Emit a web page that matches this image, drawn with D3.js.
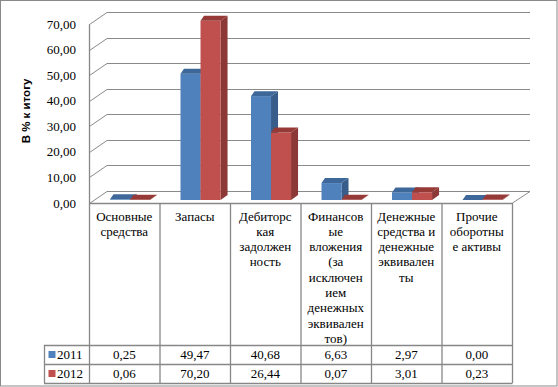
<!DOCTYPE html>
<html><head><meta charset="utf-8">
<script src="https://cdn.jsdelivr.net/npm/d3@7"></script>
<style>body{margin:0;background:#fff}svg{display:block}</style></head>
<body>
<script>
const categories = ["Основные средства","Запасы","Дебиторская задолженность","Финансовые вложения (за исключением денежных эквивалентов)","Денежные средства и денежные эквиваленты","Прочие оборотные активы"];
const categoryLines = [["Основные","средства"],["Запасы"],["Дебиторс","кая","задолжен","ность"],["Финансов","ые","вложения","(за","исключен","ием","денежных","эквивален","тов)"],["Денежные","средства и","денежные","эквивален","ты"],["Прочие","оборотны","е активы"]];
const series = ["2011","2012"];
const values2011 = [0.25,49.47,40.68,6.63,2.97,0.00];
const values2012 = [0.06,70.20,26.44,0.07,3.01,0.23];
const yTicks = [0,10,20,30,40,50,60,70];
const yTitle = "В % к итогу";

const W = 558, H = 387;
const colors = {
  "2011": {front:"#4F81BD", side:"#385D8A", top:"#3D6899"},
  "2012": {front:"#C0504D", side:"#8C3836", top:"#963A37"}
};
const gridColor = "#8A8A8A";
const SERIF = "Liberation Serif";
const fmt = v => d3.format(".2f")(v).replace(".", ",");

const svg = d3.select("body").append("svg").attr("width", W).attr("height", H);
const serifText = sel => sel.attr("font-family", SERIF).attr("font-size", 13).attr("fill", "#000");

const x = d3.scaleBand().domain(categories).range([89, 512]);
const yBack = d3.scaleLinear().domain([0, 70]).range([191, 12.3]);
const wallDx = 18, wallDy = 12;
const barDy = 9;
const depthDx = 7, depthDy = 5;
const floorFrontY = 203;
const backRight = 530;

const g = svg.append("g");

yTicks.forEach(t => {
  const yb = Math.round(yBack(t)) + 0.5;
  g.append("line").attr("x1", 89 + wallDx).attr("x2", backRight).attr("y1", yb).attr("y2", yb)
    .attr("stroke", gridColor).attr("stroke-width", 1);
  g.append("line").attr("x1", 89.5).attr("y1", yb + wallDy).attr("x2", 89 + wallDx).attr("y2", yb)
    .attr("stroke", gridColor).attr("stroke-width", 1);
  g.append("text").call(serifText).attr("x", 76).attr("y", yBack(t) + wallDy).attr("dy", "0.35em")
    .attr("text-anchor", "end").text(fmt(t));
});
g.append("line").attr("x1", 512.5).attr("y1", floorFrontY).attr("x2", backRight).attr("y2", Math.round(yBack(0)) + 0.5)
  .attr("stroke", gridColor).attr("stroke-width", 1);

const bw = x.bandwidth();
const barW = bw * 0.284;
const barOff = bw * 0.298;
categories.forEach((c, i) => {
  series.forEach((s, j) => {
    const v = (j === 0 ? values2011 : values2012)[i];
    const col = colors[s];
    const x0 = x(c) + barOff + j * barW;
    const x1 = x0 + barW;
    const yb = yBack(0) + barDy;
    const yt = yBack(v) + barDy;
    const bg = g.append("g");
    bg.append("path").attr("d", `M${x1},${yb}L${x1 + depthDx},${yb - depthDy}L${x1 + depthDx},${yt - depthDy}L${x1},${yt}Z`)
      .attr("fill", col.side);
    bg.append("rect").attr("x", x0).attr("y", yt).attr("width", barW).attr("height", yb - yt).attr("fill", col.front);
    bg.append("path").attr("d", `M${x0},${yt}L${x0 + depthDx * 0.5},${yt - depthDy}L${x1 + depthDx},${yt - depthDy}L${x1},${yt}Z`)
      .attr("fill", col.top);
  });
});

const tblLeft = 44, hdrTop = floorFrontY, row1 = 345, row2 = 364, row3 = 383, tblRight = 512;
const lc = "#878787";
const line = (x1, y1, x2, y2) => g.append("line").attr("x1", x1).attr("y1", y1).attr("x2", x2).attr("y2", y2)
  .attr("stroke", lc).attr("stroke-width", 1.3);
line(89, hdrTop + 0.5, 513, hdrTop + 0.5);
line(89.5, yBack(70) + wallDy, 89.5, row3);
categories.forEach(c => line(x(c) + bw + 0.5, hdrTop, x(c) + bw + 0.5, row3));
[row1, row2, row3].forEach(yy => line(tblLeft, yy + 0.5, tblRight + 0.5, yy + 0.5));
line(tblLeft + 0.5, row1, tblLeft + 0.5, row3);

categories.forEach((c, i) => {
  const cx = x(c) + bw / 2;
  categoryLines[i].forEach((ln, k) => {
    g.append("text").call(serifText).attr("x", cx).attr("y", 220.5 + k * 15.3).attr("text-anchor", "middle").text(ln);
  });
});
[[values2011, row1, row2], [values2012, row2, row3]].forEach(([vals, top, bot], j) => {
  const cy = (top + bot) / 2;
  vals.forEach((v, i) => {
    g.append("text").call(serifText).attr("x", x(categories[i]) + bw / 2).attr("y", cy).attr("dy", "0.35em")
      .attr("text-anchor", "middle").text(fmt(v));
  });
  g.append("rect").attr("x", 48.5).attr("y", cy - 3.5).attr("width", 7).attr("height", 7).attr("fill", colors[series[j]].front);
  g.append("text").call(serifText).attr("x", 57).attr("y", cy).attr("dy", "0.35em").text(series[j]);
});

svg.append("text").attr("transform", "translate(30,111) rotate(-90)").attr("text-anchor", "middle")
  .attr("font-family", "Liberation Sans").attr("font-weight", "bold").attr("font-size", 11.5).attr("fill", "#000")
  .text(yTitle);

svg.append("rect").attr("x", 0.5).attr("y", 0.5).attr("width", W - 1.5).attr("height", H - 1.5)
  .attr("fill", "none").attr("stroke", "#8A8A8A").attr("stroke-width", 1);
</script>
</body></html>
